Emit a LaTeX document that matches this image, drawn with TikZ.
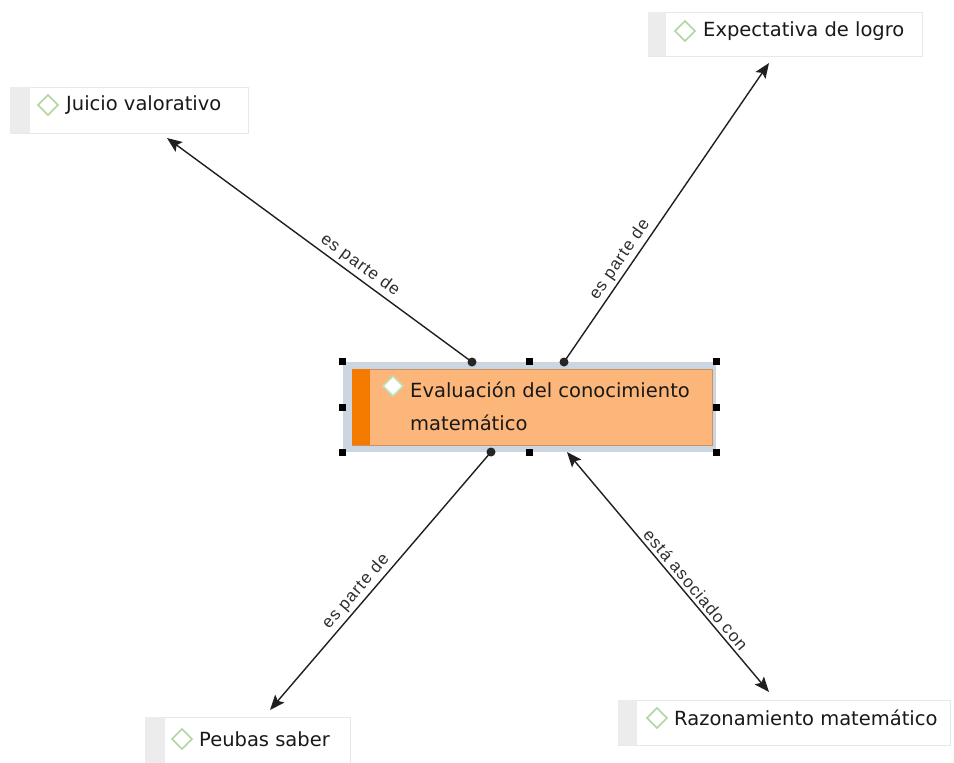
\documentclass[tikz,border=0pt]{standalone}
\usepackage{fontspec}
\setmainfont{DejaVu Sans}
\newfontfamily\lblfont[LetterSpace=6]{Liberation Sans}
\usetikzlibrary{arrows.meta,calc}
\definecolor{orfill}{RGB}{252,182,122}
\definecolor{orbar}{RGB}{245,122,0}
\definecolor{selbox}{RGB}{204,214,225}
\definecolor{dgreen}{RGB}{178,214,160}
\definecolor{stripc}{RGB}{236,236,236}
\definecolor{boxline}{RGB}{232,232,232}
\tikzset{
  x=1pt,y=-1pt,
  concept/.style={draw=boxline,fill=white,line width=0.8pt,inner sep=0pt},
  dmd/.style={draw=dgreen,fill=white,line width=1.6pt,minimum size=14pt,inner sep=0pt,rotate=45,shape=rectangle},
  ntext/.style={font=\fontsize{19.5}{23}\selectfont,text=black!90,anchor=west,inner sep=0pt},
  conn/.style={line width=1.4pt,black!88},
  tipst/.style={-{Stealth[length=15pt,width=12pt,inset=3pt]}},
  lbl/.style={font=\lblfont\fontsize{17}{20}\selectfont,text=black!82,inner sep=3pt},
  handle/.style={fill=black,minimum size=7pt,inner sep=0pt,shape=rectangle},
  cdot/.style={fill=black!85,circle,minimum size=9pt,inner sep=0pt},
}
\begin{document}
\begin{tikzpicture}
\useasboundingbox (0,0) rectangle (954,763);
% ---- outer concept nodes ----
\node[concept,minimum width=238pt,minimum height=46pt] (jv) at (129,110) {};
\fill[stripc] (jv.north west) rectangle ++(20,46);
\node[dmd] (jvd) at (48,105) {};
\node[ntext] (jvt) at (66,105) {Juicio valorativo};

\node[concept,minimum width=274pt,minimum height=44pt] (el) at (785,34) {};
\fill[stripc] (el.north west) rectangle ++(18,44);
\node[dmd] (eld) at (685,31) {};
\node[ntext] (elt) at (703,31) {Expectativa de logro};

\node[concept,minimum width=205pt,minimum height=46pt] (ps) at (247.5,740) {};
\fill[stripc] (ps.north west) rectangle ++(20,46);
\node[dmd] (psd) at (182,739) {};
\node[ntext] (pst) at (199,739) {Peubas saber};

\node[concept,minimum width=332pt,minimum height=45pt] (rm) at (784,722.5) {};
\fill[stripc] (rm.north west) rectangle ++(19,45);
\node[dmd] (rmd) at (657,718) {};
\node[ntext] (rmt) at (674,718) {Razonamiento matemático};

% ---- central node ----
\node[fill=selbox,minimum width=373pt,minimum height=90pt,inner sep=0pt] (sel) at (529.5,407) {};
\node[fill=orfill,draw=orfill!80!black,line width=0.6pt,minimum width=360pt,minimum height=76pt,inner sep=0pt] (ev) at (532,407) {};
\fill[orbar] (ev.north west) rectangle ++(18,76);
\node[dmd,draw=dgreen!80!white] (evd) at (393,386) {};
\node[ntext] (evt1) at (410,390) {Evaluación del conocimiento};
\node[ntext] (evt2) at (410,423) {matemático};

% handles
\foreach \p in {north west,north,north east,west,east,south west,south,south east}
  \node[handle] at (sel.\p) {};

% ---- connector endpoints ----
\coordinate (d1) at (472,362);
\coordinate (d2) at (564,362);
\coordinate (d3) at (491,452);
\coordinate (d4) at (567,452);
\coordinate (e1) at (167,138);
\coordinate (e2) at (769,63);
\coordinate (e3) at (270,710);
\coordinate (e4) at (769,692);

\draw[conn,tipst] (d1) -- node[lbl,sloped,above,pos=0.39] (l1) {es parte de} (e1);
\draw[conn,tipst] (d2) -- node[lbl,sloped,above,pos=0.32] (l2) {es parte de} (e2);
\draw[conn,tipst] (d3) -- node[lbl,sloped,above,pos=0.57] (l3) {es parte de} (e3);
\draw[conn,{Stealth[length=15pt,width=12pt,inset=3pt]}-{Stealth[length=15pt,width=12pt,inset=3pt]}] (d4) -- node[lbl,sloped,above,pos=0.6] (l4) {está asociado con} (e4);

\node[cdot] at (d1) {};
\node[cdot] at (d2) {};
\node[cdot] at (d3) {};
\end{tikzpicture}
\end{document}
